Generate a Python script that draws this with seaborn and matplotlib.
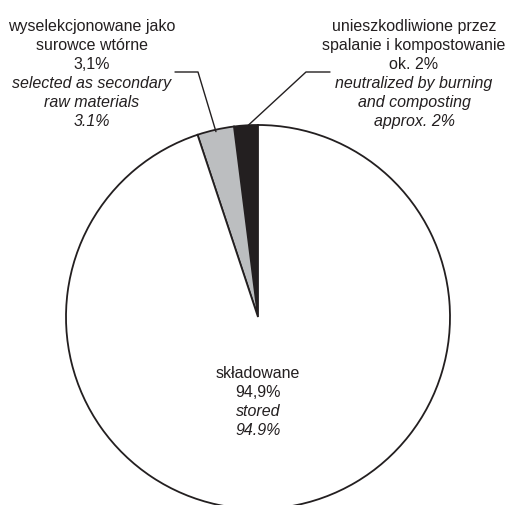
import numpy as np
import matplotlib
matplotlib.use("Agg")
import matplotlib.pyplot as plt
import seaborn as sns

# ── Data ─────────────────────────────────────────────────────────────────────
categories = ["neutralized", "selected", "stored"]
shares     = [2.0, 3.1, 94.9]
colors     = ["#231f20", "#bcbec0", "#ffffff"]

label_pl = {
    "neutralized": ["unieszkodliwione przez", "spalanie i kompostowanie", "ok. 2%"],
    "selected":    ["wyselekcjonowane jako", "surowce wtórne", "3,1%"],
    "stored":      ["składowane", "94,9%"],
}
label_en = {
    "neutralized": ["neutralized by burning", "and composting", "approx. 2%"],
    "selected":    ["selected as secondary", "raw materials", "3.1%"],
    "stored":      ["stored", "94.9%"],
}

sns.set_theme(style="white")
plt.rcParams["font.family"] = ["Liberation Sans Narrow", "Liberation Sans", "DejaVu Sans"]

INK = "#231f20"
W, H = 507, 505
CX, CY, R = 258, 317, 192      # pie centre / radius in pixels
LIM = 1.05
FS = 11.5

fig = plt.figure(figsize=(W / 100, H / 100), dpi=100)
side = 2 * LIM * R
ax = fig.add_axes([(CX - side / 2) / W, (H - CY - side / 2) / H, side / W, side / H])

wedges, _ = ax.pie(shares, colors=colors, startangle=90, counterclock=True,
                   wedgeprops=dict(edgecolor=INK, linewidth=1.3))
ax.set_xlim(-LIM, LIM)
ax.set_ylim(-LIM, LIM)
ax.set_aspect("equal")
ax.axis("off")


def to_data(px, py):
    return (px - CX) / R, (CY - py) / R


def block(x, y0, key, step=19):
    lines = [(t, "normal") for t in label_pl[key]] + [(t, "italic") for t in label_en[key]]
    for i, (t, st) in enumerate(lines):
        fig.text(x / W, 1 - (y0 + i * step) / H, t, ha="center", va="baseline",
                 fontsize=FS, style=st, color=INK)


block(92, 31, "selected")
block(414, 31, "neutralized")
block(258, 378, "stored")

# leader lines from the text to the middle of the small wedges
leaders = {"selected": [(175, 72), (198, 72)], "neutralized": [(330, 72), (306, 72)]}
for w, key in zip(wedges, categories):
    if key not in leaders:
        continue
    mid = np.deg2rad((w.theta1 + w.theta2) / 2)
    (x0, y0), (x1, y1) = [to_data(*p) for p in leaders[key]]
    ax.plot([x0, x1, 0.99 * np.cos(mid)], [y0, y1, 0.99 * np.sin(mid)],
            color=INK, linewidth=1.0, clip_on=False)

fig.savefig("out.png", dpi=100)
